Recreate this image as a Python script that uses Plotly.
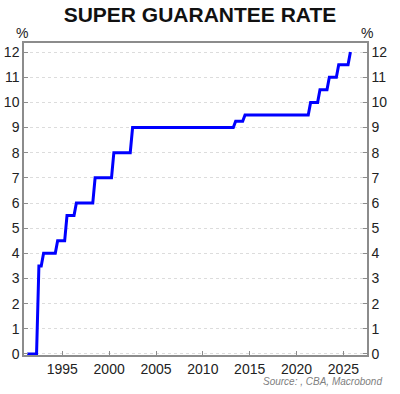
import plotly.graph_objects as go

# Rate changes: (year fraction at which new rate first appears, rate %)
change_years = [1991.25, 1992.5, 1993.0, 1994.5, 1995.5, 1996.5, 1998.5, 2000.5,
                2002.5, 2013.5, 2014.5, 2021.5, 2022.5, 2023.5, 2024.5, 2025.75]
change_rates = [0, 3.5, 4, 4.5, 5.5, 6, 7, 8, 9, 9.25, 9.5, 10, 10.5, 11, 11.5, 12]
end_year = 2025.75

x_ticks = [1995, 2000, 2005, 2010, 2015, 2020, 2025]
y_ticks = list(range(0, 13))

# Build quarterly step series from the change points
xs, ys = [], []
t = change_years[0]
while t <= end_year + 1e-9:
    v = 0
    for cy, cr in zip(change_years, change_rates):
        if t >= cy - 1e-9:
            v = cr
    xs.append(t)
    ys.append(v)
    t += 0.25

fig = go.Figure()
fig.add_trace(go.Scatter(x=xs, y=ys, mode="lines",
                         line=dict(color="#0000ff", width=3), showlegend=False,
                         hoverinfo="skip"))
fig.add_trace(go.Scatter(x=xs, y=ys, mode="lines", yaxis="y2",
                         line=dict(color="rgba(0,0,0,0)", width=0), showlegend=False,
                         hoverinfo="skip"))

axis_font = dict(family="Liberation Sans, Arial, sans-serif", size=14, color="#222222")
yrange = [-0.04, 12.36]

fig.update_layout(
    width=400, height=394,
    margin=dict(l=24, r=33, t=43, b=39, autoexpand=False),
    paper_bgcolor="white", plot_bgcolor="white",
    title=dict(text="<b>SUPER GUARANTEE RATE</b>", x=0.5, xanchor="center",
               y=0.962, yanchor="middle",
               font=dict(family="Liberation Sans, Arial, sans-serif", size=21, color="#111111")),
    xaxis=dict(range=[1990.91, 2027.52], tickvals=x_ticks, ticktext=[str(v) for v in x_ticks],
               showgrid=False, zeroline=False, showline=True, linecolor="#8c8c8c", linewidth=2,
               mirror=True, ticks="inside", ticklen=4, tickcolor="#8c8c8c",
               tickfont=axis_font, automargin=False),
    yaxis=dict(range=yrange, tickvals=y_ticks, showgrid=True, gridcolor="#dcdcdc",
               griddash="dot", gridwidth=1, zeroline=False, showline=True,
               linecolor="#8c8c8c", linewidth=1.5, ticks="inside", ticklen=4,
               tickcolor="#8c8c8c", tickfont=axis_font, automargin=False),
    yaxis2=dict(range=yrange, tickvals=y_ticks, overlaying="y", side="right", anchor="x",
                showgrid=False, zeroline=False, showline=True, linecolor="#8c8c8c",
                linewidth=1.5, ticks="inside", ticklen=4, tickcolor="#8c8c8c",
                tickfont=axis_font, automargin=False),
    annotations=[
        dict(text="%", xref="paper", yref="paper", x=-0.005, y=1.0, xanchor="center",
             yanchor="bottom", showarrow=False, font=axis_font),
        dict(text="%", xref="paper", yref="paper", x=1.0, y=1.0, xanchor="center",
             yanchor="bottom", showarrow=False, font=axis_font),
        dict(text="<i>Source: , CBA, Macrobond</i>", xref="paper", yref="paper",
             x=1.05, y=-0.06, xanchor="right", yanchor="top", showarrow=False,
             font=dict(family="Liberation Sans, Arial, sans-serif", size=10, color="#808080")),
    ],
)

fig.write_html("out.html", config={"displayModeBar": False},
               post_script="document.body.style.margin='0';document.body.style.padding='0';")
